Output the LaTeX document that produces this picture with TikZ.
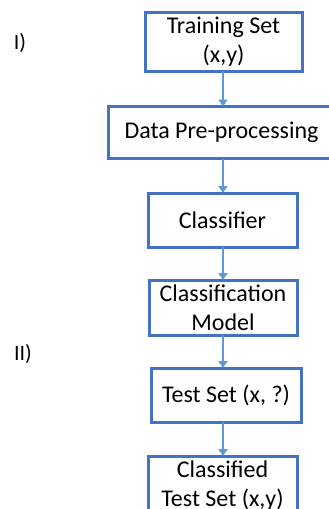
\documentclass[tikz,border=0pt]{standalone}
\usepackage{fontspec}
\setmainfont{Carlito}
\usetikzlibrary{arrows.meta}
\definecolor{boxblue}{HTML}{4472C4}
\definecolor{arrblue}{HTML}{5B9BD5}
\begin{document}
\begin{tikzpicture}[x=1pt,y=-1pt,
  stepbox/.style={draw=boxblue,line width=3pt,fill=white,rectangle,inner sep=0pt,align=center,
    font=\fontsize{24}{29}\selectfont},
  arr/.style={draw=arrblue,line width=2.5pt,-{Triangle[width=9pt,length=7pt]}},
  lbl/.style={font=\fontsize{22}{26}\selectfont,inner sep=0pt}]
\clip (0,0) rectangle (329,509);
\fill[white] (0,0) rectangle (329,509);
\coordinate (ax) at (223,0);
\node[stepbox,minimum width=157pt,minimum height=59pt] (b1) at (223.5,41.5) {Training Set\\(x,y)};
\node[stepbox,minimum width=227pt,minimum height=52pt] (b2) at (221.5,132.5) {Data Pre-processing};
\node[stepbox,minimum width=149pt,minimum height=54pt] (b3) at (222.5,220) {Classifier};
\node[stepbox,minimum width=148pt,minimum height=55pt] (b4) at (223,307.5) {Classification\\Model};
\node[stepbox,minimum width=150pt,minimum height=54pt] (b5) at (226,395) {Test Set (x, ?)};
\node[stepbox,minimum width=149pt,minimum height=60pt] (b6) at (222.5,486) {Classified\\Test Set (x,y)};
\draw[arr] ([yshift=1.5pt]b1.south -| ax) -- ([yshift=-1.5pt]b2.north -| ax);
\draw[arr] ([yshift=1.5pt]b2.south -| ax) -- ([yshift=-1.5pt]b3.north -| ax);
\draw[arr] ([yshift=1.5pt]b3.south -| ax) -- ([yshift=-1.5pt]b4.north -| ax);
\draw[arr] ([yshift=1.5pt]b4.south -| ax) -- ([yshift=-1.5pt]b5.north -| ax);
\draw[arr] ([yshift=1.5pt]b5.south -| ax) -- ([yshift=-1.5pt]b6.north -| ax);
\node[lbl] (l1) at (20,43) {I)};
\node[lbl] (l2) at (23,354) {II)};
\end{tikzpicture}
\end{document}
